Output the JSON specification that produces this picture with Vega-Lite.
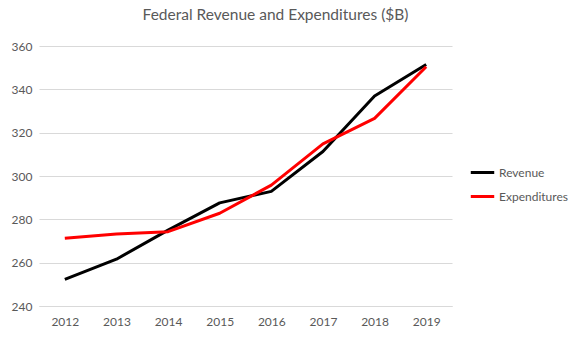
{
  "$schema": "https://vega.github.io/schema/vega-lite/v6.json",
  "autosize": {"type": "none"},
  "width": 413,
  "height": 260,
  "padding": {"left": 39, "top": 46, "right": 130, "bottom": 45},
  "background": "white",
  "title": {
    "text": "Federal Revenue and Expenditures ($B)",
    "font": "Lato",
    "fontSize": 15.5,
    "fontWeight": "normal",
    "color": "#595959",
    "anchor": "middle",
    "frame": "group",
    "dx": 30,
    "offset": 17
  },
  "data": {
    "values": [
      {"year": "2012", "series": "Revenue", "value": 252.3},
      {"year": "2013", "series": "Revenue", "value": 261.6},
      {"year": "2014", "series": "Revenue", "value": 275.0},
      {"year": "2015", "series": "Revenue", "value": 287.6},
      {"year": "2016", "series": "Revenue", "value": 292.9},
      {"year": "2017", "series": "Revenue", "value": 311.3},
      {"year": "2018", "series": "Revenue", "value": 336.9},
      {"year": "2019", "series": "Revenue", "value": 351.5},
      {"year": "2012", "series": "Expenditures", "value": 271.3},
      {"year": "2013", "series": "Expenditures", "value": 273.2},
      {"year": "2014", "series": "Expenditures", "value": 274.3},
      {"year": "2015", "series": "Expenditures", "value": 282.8},
      {"year": "2016", "series": "Expenditures", "value": 295.8},
      {"year": "2017", "series": "Expenditures", "value": 314.8},
      {"year": "2018", "series": "Expenditures", "value": 326.6},
      {"year": "2019", "series": "Expenditures", "value": 350.4}
    ]
  },
  "mark": {"type": "line", "strokeWidth": 3, "strokeJoin": "round"},
  "encoding": {
    "x": {
      "field": "year",
      "type": "ordinal",
      "scale": {"type": "point", "padding": 0.5},
      "axis": {
        "title": null,
        "labelAngle": 0,
        "labelFont": "Lato",
        "labelFontSize": 12,
        "labelColor": "#595959",
        "ticks": false,
        "domain": true,
        "domainColor": "#d9d9d9",
        "labelPadding": 10,
        "grid": false
      }
    },
    "y": {
      "field": "value",
      "type": "quantitative",
      "scale": {"domain": [240, 360], "zero": false, "nice": false},
      "axis": {
        "title": null,
        "values": [240, 260, 280, 300, 320, 340, 360],
        "labelFont": "Lato",
        "labelFontSize": 12,
        "labelColor": "#595959",
        "ticks": false,
        "domain": false,
        "gridColor": "#d9d9d9",
        "labelPadding": 7
      }
    },
    "color": {
      "field": "series",
      "type": "nominal",
      "scale": {"domain": ["Revenue", "Expenditures"], "range": ["#000000", "#ff0000"]},
      "legend": {
        "title": null,
        "orient": "none",
        "legendX": 430,
        "legendY": 113,
        "symbolType": "stroke",
        "symbolStrokeWidth": 3,
        "symbolSize": 550,
        "labelFont": "Lato",
        "labelFontSize": 12,
        "labelColor": "#595959",
        "rowPadding": 4,
        "labelOffset": 3
      }
    }
  },
  "config": {"view": {"stroke": null}}
}
